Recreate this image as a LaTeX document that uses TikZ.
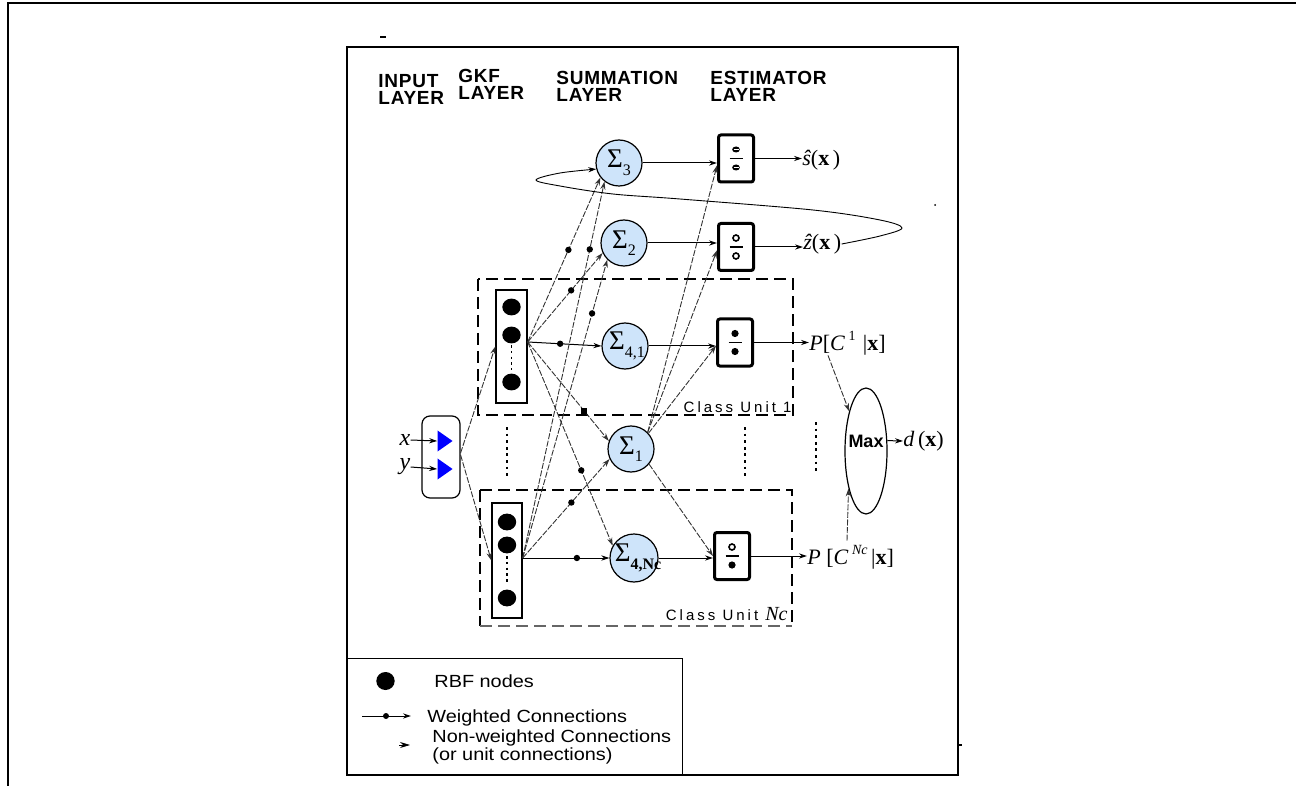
\documentclass[tikz,border=0pt]{standalone}
\usepackage{fontspec}
\setmainfont{Liberation Serif}
\newfontfamily\arial{Liberation Sans}
\newfontfamily\legfont[FakeStretch=1.13]{Liberation Sans}
\newfontfamily\cufont[LetterSpace=20]{Liberation Sans}
\newfontfamily\headfont[LetterSpace=4]{Liberation Sans}
\usetikzlibrary{arrows.meta,calc,shapes.geometric}
\definecolor{sumblue}{RGB}{206,228,250}
\newcommand\sig[1]{{\fontsize{13.5}{13.5}\selectfont Σ\raisebox{-0.28em}{\fontsize{8}{8}\selectfont #1}}}
\begin{document}
\begin{tikzpicture}[x=0.5pt,y=-0.5pt,
  >={Stealth[length=4pt,width=2.6pt]},
  sumn/.style={circle,draw=black,line width=0.6pt,fill=sumblue,minimum size=23pt,inner sep=0pt},
  sumw/.style={sumn,minimum size=24pt},
  est/.style={draw=black,line width=1.5pt,rounded corners=1.2pt,minimum width=17.5pt,minimum height=23.5pt,inner sep=0pt},
  gkf/.style={draw=black,line width=0.7pt,inner sep=0pt},
  conn/.style={->,black!80,line width=0.45pt,dash pattern=on 3pt off 0.8pt},
  hconn/.style={->,black,line width=0.5pt},
  wdot/.style={circle,fill=black,inner sep=0pt,minimum size=3.2pt},
  sqdot/.style={rectangle,fill=black,inner sep=0pt,minimum size=3pt},
  fdot/.style={circle,fill=black,inner sep=0pt,minimum size=3.6pt},
  odot/.style={circle,draw=black,line width=0.8pt,fill=white,inner sep=0pt,minimum size=3pt},
  hdot/.style={ellipse,fill=black,inner sep=0pt,minimum width=3.8pt,minimum height=3pt},
  cubox/.style={draw=black,line width=1pt,dash pattern=on 6pt off 3pt},
  head/.style={font=\headfont\bfseries\fontsize{9.5}{8.5}\selectfont,align=left,anchor=north west,inner sep=0pt},
  outl/.style={font=\fontsize{11}{11}\selectfont,inner sep=0pt},
  legt/.style={font=\legfont\fontsize{8.8}{8.8}\selectfont,inner sep=0pt,anchor=base west},
  sep/.style={line width=1.1pt,dash pattern=on 1.4pt off 1.9pt},
  gdots/.style={line width=0.9pt,dash pattern=on 1.3pt off 1.6pt}
]
\useasboundingbox (0,0) rectangle (1296,786);
% outer and inner frames
\draw[line width=0.6pt] (8,786) -- (8,3) -- (1296,3);
\draw[line width=0.8pt] (347,47) rectangle (958,775);
\draw[line width=0.8pt] (380,37) -- (386,37);
\draw[line width=0.8pt] (958,745) -- (962,745);
\fill (935,205) circle[radius=0.5pt];

% headers
\node[head] (hin) at (378,74) {INPUT\\LAYER};
\node[head] (hgkf) at (458,69) {GKF\\LAYER};
\node[head] (hsum) at (556,71) {SUMMATION\\LAYER};
\node[head] (hest) at (710,71) {ESTIMATOR\\LAYER};

% class unit boxes
\draw[cubox] (478,279) rectangle (793,415);
\draw[cubox] (480,490) -- (480,626);
\draw[cubox] (480,490) -- (792,490) -- (792,626);
\draw[cubox,black!60] (480,626) -- (792,626);
\node[font=\cufont\fontsize{7.5}{7.5}\selectfont,inner sep=0pt,anchor=base east] (cu1) at (792,412) {Class Unit 1};
\node[font=\cufont\fontsize{7.5}{7.5}\selectfont,inner sep=0pt,anchor=base east] (cun) at (788,620) {Class Unit {\rmfamily\itshape\fontsize{10}{10}\selectfont Nc}};

% separators
\draw[sep] (507,427) -- (507,477);
\draw[sep] (745,427) -- (745,477);
\draw[sep] (816,422) -- (816,473);

% input layer
\node[draw=black,line width=0.6pt,rounded corners=4pt,minimum width=19pt,minimum height=41pt,inner sep=0pt] (inp) at (441,457) {};
\node[isosceles triangle,isosceles triangle apex angle=70,fill=blue,inner sep=0pt,minimum height=7.5pt,minimum width=8.5pt] (tx) at (443,441) {};
\node[isosceles triangle,isosceles triangle apex angle=70,fill=blue,inner sep=0pt,minimum height=7.5pt,minimum width=8.5pt] (ty) at (443,469) {};
\node[font=\fontsize{12}{12}\selectfont\itshape,inner sep=0pt] (lx) at (405,440) {x};
\node[font=\fontsize{12}{12}\selectfont\itshape,inner sep=0pt] (ly) at (405,467) {y};
\draw[hconn] (lx.east) -- (tx.west);
\draw[hconn] (ly.east) -- (ty.west);

% GKF boxes
\node[gkf,minimum width=15.5pt,minimum height=56.5pt] (g1) at (511.5,346.5) {};
\node[gkf,minimum width=15pt,minimum height=57.5pt] (g2) at (507,560.5) {};
\fill (511.5,307) ellipse[x radius=4.6pt,y radius=4.2pt];
\fill (511.5,335) ellipse[x radius=4.6pt,y radius=4.2pt];
\fill (511.5,382) ellipse[x radius=4.6pt,y radius=4.2pt];
\draw[gdots] (511.5,345) -- (511.5,370);
\fill (507,522) ellipse[x radius=4.6pt,y radius=4.2pt];
\fill (507,545) ellipse[x radius=4.6pt,y radius=4.2pt];
\fill (507,598) ellipse[x radius=4.6pt,y radius=4.2pt];
\draw[gdots] (507,556) -- (507,583);
\coordinate (g1o) at ([yshift=2.25pt]g1.east);
\coordinate (g2o) at ([yshift=1.25pt]g2.east);

% input connections
\draw[conn] ([yshift=2pt]inp.east) -- (g1.west);
\draw[conn] ([yshift=1pt]inp.east) -- (g2.west);

% summation nodes
\node[sumn,label={[inner sep=0pt]center:\sig{3}}] (s3) at (619,163) {};
\node[sumn,label={[inner sep=0pt]center:\sig{2}}] (s2) at (624,243) {};
\node[sumn,label={[inner sep=0pt,xshift=1pt]center:\sig{4,1}}] (s41) at (625,346) {};
\node[sumn,label={[inner sep=0pt]center:\sig{1}}] (s1) at (631,449) {};
\node[sumw,label={[inner sep=0pt,xshift=2pt]center:\sig{\bfseries 4,Nc}}] (s4n) at (634,558) {};

% weighted connections from GKF boxes
\draw[hconn] (g1o) -- node[wdot,pos=0.44]{} (s41.west);
\draw[conn] (g1o) -- node[wdot,pos=0.58]{} (s2.205);
\draw[conn] (g1o) -- node[wdot,pos=0.56]{} (s3.218);
\draw[conn] (g1o) -- node[sqdot,pos=0.7]{} (s1.160);
\draw[conn] (g1o) -- node[wdot,pos=0.63]{} (s4n.150);
\draw[hconn] (g2o) -- node[wdot,pos=0.625]{} (s4n.west);
\draw[conn] (g2o) -- node[wdot,pos=0.56]{} (s1.205);
\draw[conn] (g2o) -- node[wdot,pos=0.82]{} (s2.225);
\draw[conn] (g2o) -- node[wdot,pos=0.82]{} (s3.232);

% estimator boxes
\node[est] (e1) at (736,158.5) {};
\node[est] (e2) at (736,247) {};
\node[est] (e3) at (735,342.5) {};
\node[est] (e4) at (732,556) {};
\foreach \e/\t/\b in {e1/hdot/hdot,e2/odot/odot,e3/fdot/fdot,e4/odot/fdot}{
  \draw[line width=0.8pt] ($(\e.center)+(-6.5,0)$) -- ($(\e.center)+(6.5,0)$);
  \node[\t] at ($(\e.center)+(0,-9)$) {};
  \node[\b] at ($(\e.center)+(0,9)$) {};
}
\foreach \e in {e1}{\draw[white,line width=0.35pt] ($(\e.center)+(-2.5,-9)$) -- ($(\e.center)+(2.5,-9)$) ($(\e.center)+(-2.5,9)$) -- ($(\e.center)+(2.5,9)$);}

% summation -> estimator
\draw[hconn] (s3.east) -- (s3.east -| e1.west);
\draw[hconn] (s2.east) -- (s2.east -| e2.west);
\draw[hconn] (s41.east) -- (s41.east -| e3.west);
\draw[hconn] (s4n.east) -- (s4n.east -| e4.west);
\draw[conn] (s1.45) -- (e1.200);
\draw[conn] (s1.45) -- (e2.190);
\draw[conn] (s1.42) -- (e3.190);
\draw[conn] (s1.-40) -- (e4.west);

% outputs
\node[outl,anchor=west] (sh) at (802,160) {\itshape\^{s}\upshape(\textbf{x}\,)};
\node[outl,anchor=west] (zh) at (803,244) {\itshape\^{z}\upshape(\textbf{x}\,)};
\node[outl,anchor=west] (p1) at (809,343) {{\itshape P}[{\itshape C}\,\raisebox{0.45em}{\fontsize{7}{7}\selectfont 1}\,\,|\textbf{x}]};
\node[outl,anchor=west] (pn) at (807,557) {{\itshape P} [{\itshape C}\,\raisebox{0.45em}{\fontsize{7}{7}\selectfont\itshape Nc}\,|\textbf{x}]};
\draw[hconn] (e1.east) -- (e1.east -| sh.west);
\draw[hconn] (e2.east) -- (e2.east -| zh.west);
\draw[hconn] (e3.east) -- (e3.east -| p1.west);
\draw[hconn] (e4.east) -- (e4.east -| pn.west);

% max
\node[ellipse,draw=black,line width=0.6pt,minimum width=21pt,minimum height=63pt,inner sep=0pt,
  label={[inner sep=0pt,yshift=5pt,font=\arial\bfseries\fontsize{9}{9}\selectfont]center:Max}] (mx) at (866,451) {};
\node[outl,anchor=west] (dl) at (903,441) {{\itshape d}\,(\textbf{x})};
\draw[hconn] (mx.26) -- (dl.west);
\draw[conn] ([xshift=9.5pt]p1.south west) -- (mx.113);
\draw[conn] ([xshift=20pt,yshift=2pt]pn.north west) -- (mx.245);

% feedback loop
\draw[->,black,line width=0.45pt] plot[smooth,tension=0.55] coordinates {(zh.east) (880,236) (902,228) (880,220) (813,210) (680,199) (613,194) (560,186) (536,180) (560,173) (s3.195)};

% legend
\draw[line width=0.5pt] (347,658) -- (682,658) -- (682,775);
\fill (385.5,681) ellipse[x radius=4.6pt,y radius=4.5pt];
\node[legt] (l1) at (434,687) {RBF nodes};
\coordinate (la) at (362,716);
\coordinate (lb) at (411,716);
\draw[hconn] (la) -- node[wdot,pos=0.49,minimum size=3pt]{} (lb);
\node[legt] (l2) at (427,722) {Weighted Connections};
\coordinate (lc) at (399,745);
\coordinate (ld) at (410,745);
\draw[-{Stealth[length=5pt,width=3pt]},line width=0.4pt] (lc) -- (ld);
\node[legt] (l3) at (432,742) {Non-weighted Connections};
\node[legt] (l4) at (432,760) {(or unit connections)};
\end{tikzpicture}
\end{document}
